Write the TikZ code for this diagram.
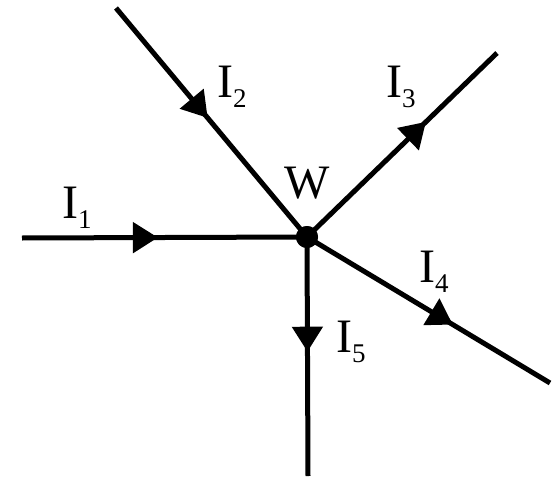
\documentclass[tikz,border=0pt]{standalone}
\usepackage{fontspec}
\setmainfont{Liberation Serif}
\usetikzlibrary{arrows.meta,decorations.markings}
\newcommand{\curlab}[1]{I\raisebox{-10pt}{\fontsize{27}{27}\selectfont #1}}
\tikzset{
  wire/.style={line width=5pt, draw=black},
  midarrow/.style={postaction={decorate},
    decoration={markings, mark=at position #1 with {\arrow{Triangle[length=25pt,width=30pt]}}}},
  lbl/.style={inner sep=0pt, font=\fontsize{48}{52}\selectfont, anchor=base west},
  junction/.style={circle, fill=black, inner sep=0pt, minimum size=22pt}
}
\begin{document}
\begin{tikzpicture}[x=1pt,y=-1pt]
\useasboundingbox (0,0) rectangle (560,479);
\node[junction] (w) at (307,237) {};
\coordinate (e1) at (22,238);
\coordinate (e2) at (116,8);
\coordinate (e3) at (497,53);
\coordinate (e4) at (550,383);
\coordinate (e5) at (308,476);
\draw[wire, midarrow=0.477] (e1) -- (w.center);
\draw[wire, midarrow=0.48] (e2) -- (w.center);
\draw[wire, midarrow=0.626] (w.center) -- (e3);
\draw[wire, midarrow=0.60] (w.center) -- (e4);
\draw[wire, midarrow=0.48] (w.center) -- (e5);
\node[junction] at (w) {};
\node[lbl] (l1) at (62,218) {\curlab{1}};
\node[lbl] (l2) at (217,97) {\curlab{2}};
\node[lbl] (l3) at (386,97) {\curlab{3}};
\node[lbl] (l4) at (419,282) {\curlab{4}};
\node[lbl] (l5) at (336,352) {\curlab{5}};
\node[lbl, anchor=base] (lw) at (307,198) {W};
\end{tikzpicture}
\end{document}
